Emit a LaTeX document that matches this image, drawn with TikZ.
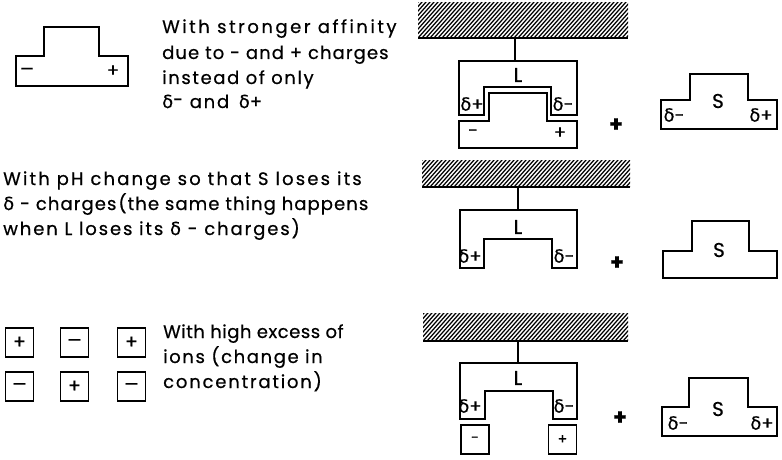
\documentclass[tikz,border=0pt]{standalone}
\usepackage{fontspec}
\setmainfont{Poppins}[FakeBold=0.6]
\newfontfamily\dvfont{DejaVu Sans}[FakeBold=0.3]
\newcommand{\dlt}{{\dvfont δ}}
\newcommand{\mns}{{\dvfont −}}
\begin{document}
\begin{tikzpicture}[x=1pt,y=-1pt,
  shp/.style={line width=1.7pt, line join=miter},
  txt/.style={anchor=base west, inner sep=0pt, font=\fontsize{18}{20}\selectfont\addfontfeature{LetterSpace=#1}},
  lab/.style={inner sep=0pt, font=\fontsize{20}{20}\selectfont},
  dlab/.style={inner sep=0pt, font=\fontsize{18}{18}\selectfont},
  plus/.style={inner sep=0pt, font=\fontsize{22}{22}\selectfont\bfseries},
  hatchln/.style={line width=1.25pt},
  surf/.style={line width=2.2pt},
  link/.style={line width=1.5pt},
  ion/.style={draw, line width=1.5pt, minimum width=28pt, minimum height=29pt, inner sep=0pt, font=\fontsize{19}{20}\selectfont},
  sion/.style={draw, line width=1.5pt, minimum width=28pt, minimum height=29pt, inner sep=0pt, font=\fontsize{14}{14}\selectfont}]
\useasboundingbox (0,0) rectangle (782,460);

% ---------- hatched surfaces ----------
\foreach \xa/\xb/\ya/\yb in {418/628/3/38, 422/630/160/187, 423/628/313/341}{
  \begin{scope}
    \clip (\xa,\ya) rectangle (\xb,\yb);
    \foreach \k in {0,...,64}
      \draw[hatchln] ({\xa-40+4*\k},\yb) -- ++(40,-45);
  \end{scope}
  \draw[surf] (\xa,\yb) -- (\xb,\yb);
}

% ---------- panel 1 ----------
\draw[shp] (16,56) -- (44,56) -- (44,27) -- (99,27) -- (99,56) -- (128,56) -- (128,86) -- (16,86) -- cycle;
\node[dlab] (p1m) at (27,71) {\mns};
\node[dlab] (p1p) at (113,71) {+};
\node[txt=14] (t1a) at (162,33) {With stronger affinity};
\node[txt=6] (t1b) at (162,59) {due to - and + charges};
\node[txt=9] (t1c) at (162,84) {instead of only};
\node[txt=10] (t1d) at (162,108) {\dlt\raisebox{2pt}{-} and \,\dlt+};

\coordinate (s1) at (515,38);
\coordinate (l1) at (515,61);
\draw[link] (s1) -- (l1);
\draw[shp] (459,61) -- (577,61) -- (577,115) -- (551,115) -- (551,87) -- (484,87) -- (484,115) -- (459,115) -- cycle;
\draw[shp] (459,121) -- (489,121) -- (489,93) -- (547,93) -- (547,121) -- (577,121) -- (577,148) -- (459,148) -- cycle;
\node[lab] (L1) at (518,75) {L};
\node[dlab] (L1a) at (472,104) {\dlt+};
\node[dlab] (L1b) at (563,104) {\dlt-};
\node[dlab] (B1a) at (473,133) {-};
\node[dlab] (B1b) at (560,133) {+};
\node[plus] (pl1) at (616,125) {+};
\draw[shp] (661,100) -- (690,100) -- (690,74) -- (748,74) -- (748,100) -- (777,100) -- (777,129) -- (661,129) -- cycle;
\node[lab] (S1) at (718,101) {S};
\node[dlab] (S1a) at (674,115) {\dlt-};
\node[dlab] (S1b) at (761,115) {\dlt+};

% ---------- panel 2 ----------
\node[txt=12] (t2a) at (3,185) {With pH change so that S loses its};
\node[txt=6] (t2b) at (3,210) {\dlt\ - charges\hspace{2pt}(the same thing happens};
\node[txt=10.5] (t2c) at (3,235) {when L loses its \dlt\ - charges)};

\coordinate (s2) at (518,187);
\coordinate (l2) at (518,210);
\draw[link] (s2) -- (l2);
\draw[shp] (460,210) -- (577,210) -- (577,268) -- (552,268) -- (552,239) -- (484,239) -- (484,268) -- (460,268) -- cycle;
\node[lab] (L2) at (518,227) {L};
\node[dlab] (L2a) at (470,256) {\dlt+};
\node[dlab] (L2b) at (564,256) {\dlt-};
\node[plus] (pl2) at (617,263) {+};
\draw[shp] (663,251) -- (692,251) -- (692,221) -- (749,221) -- (749,251) -- (777,251) -- (777,278) -- (663,278) -- cycle;
\node[lab] (S2) at (719,250) {S};

% ---------- panel 3 ----------
\node[ion] (i1) at (19.5,342.5) {+};
\node[ion] (i2) at (74.5,342.5) {\mns};
\node[ion] (i3) at (131.5,342.5) {+};
\node[ion] (i4) at (19.5,386.5) {\mns};
\node[ion] (i5) at (74.5,386.5) {+};
\node[ion] (i6) at (131.5,386.5) {\mns};
\node[txt=3] (t3a) at (163,338) {With high excess of};
\node[txt=9] (t3b) at (163,363) {ions (change in};
\node[txt=10] (t3c) at (163,388) {concentration)};

\coordinate (s3) at (518,341);
\coordinate (l3) at (518,363);
\draw[link] (s3) -- (l3);
\draw[shp] (460,363) -- (577,363) -- (577,419) -- (553,419) -- (553,391) -- (485,391) -- (485,419) -- (460,419) -- cycle;
\node[lab] (L3) at (518,378) {L};
\node[dlab] (L3a) at (470,406) {\dlt+};
\node[dlab] (L3b) at (564,406) {\dlt-};
\node[sion] (b3a) at (475,439.5) {-};
\node[sion] (b3b) at (562.5,439.5) {+};
\node[plus] (pl3) at (620,418) {+};
\draw[shp] (662,407) -- (689,407) -- (689,378) -- (748,378) -- (748,407) -- (777,407) -- (777,436) -- (662,436) -- cycle;
\node[lab] (S3) at (718,409) {S};
\node[dlab] (S3a) at (678,423) {\dlt-};
\node[dlab] (S3b) at (762,423) {\dlt+};
\end{tikzpicture}
\end{document}
